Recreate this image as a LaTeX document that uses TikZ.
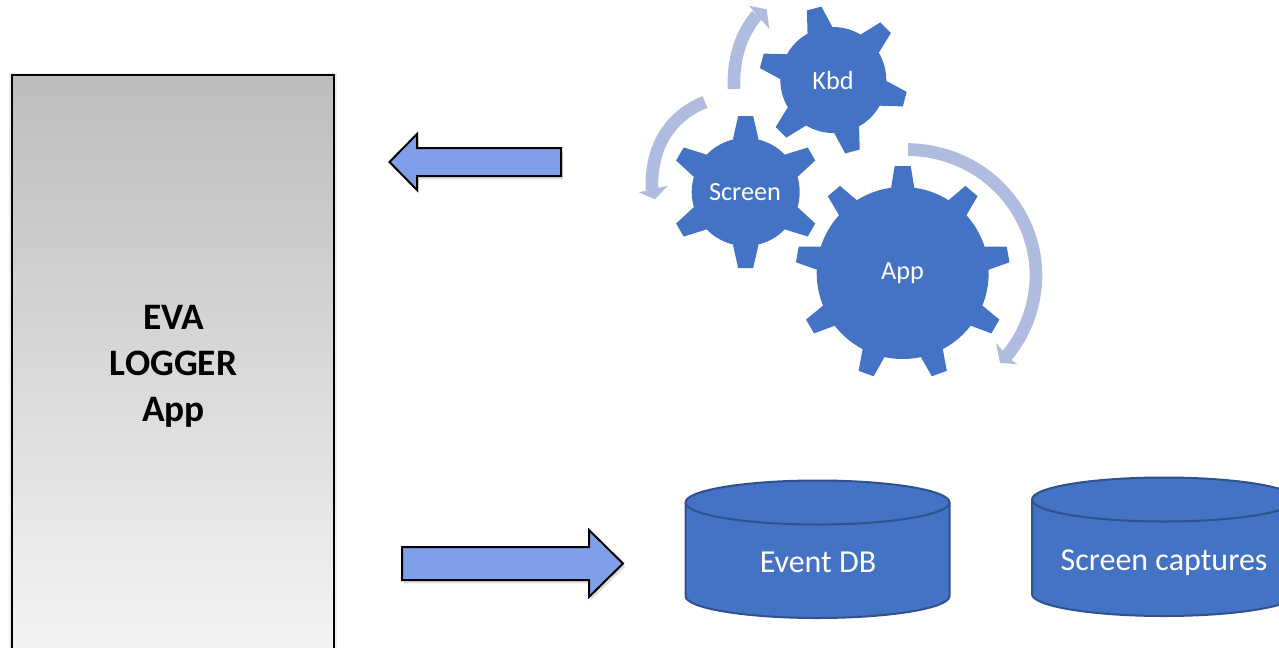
\documentclass[tikz,border=0pt]{standalone}
\usepackage{fontspec}
\setmainfont{Carlito}
\usetikzlibrary{shadows}
\definecolor{gearblue}{HTML}{4472C4}
\definecolor{gearedge}{HTML}{2F528F}
\definecolor{arcblue}{HTML}{B0BCDF}
\definecolor{arrowblue}{HTML}{7F9FE8}
\tikzset{
  blockarrow/.style={draw=black,line width=1.5pt,fill=arrowblue,line join=miter,
    drop shadow={shadow xshift=1.5pt,shadow yshift=-2.5pt,opacity=.25}},
  dbbody/.style={draw=gearedge,line width=1.5pt,fill=gearblue},
  dbtext/.style={text=white,font=\fontsize{24}{28}\selectfont},
  geartext/.style={text=white,font=\fontsize{19.7}{24}\selectfont},
  spinarc/.style={draw=arcblue,line width=9.5pt},
  spinhead/.style={fill=arcblue}
}
% centre, body radius, tip radius, half width at body, half width at tip, angles
\newcommand{\gearteeth}[6]{%
  \foreach \ang in {#6} {
    \begin{scope}[shift={(#1)},rotate=\ang]
      \fill[gearblue] (#2-3,-#4-.5) -- (#2,-#4) -- (#3,-#5) -- (#3,#5) -- (#2,#4) -- (#2-3,#4+.5) -- cycle;
    \end{scope}
  }}
% centre x, y of top rim, y of bottom rim
\newcommand{\dbstore}[3]{%
  \draw[dbbody] (#1-132,#2) -- (#1-132,#3) arc[start angle=180,end angle=0,x radius=132,y radius=22]
    -- (#1+132,#2) arc[start angle=0,end angle=-180,x radius=132,y radius=22] -- cycle;
  \draw[dbbody,fill=none] (#1-132,#2) arc[start angle=180,end angle=0,x radius=132,y radius=22];}
\begin{document}
\begin{tikzpicture}[x=.75pt,y=-.75pt]
\useasboundingbox (0,0) rectangle (1279,647);
\clip (0,0) rectangle (1279,647);

% logger box
\fill[black,opacity=.07] (9,73) rectangle (337,660);
\node[draw=black,line width=1.4pt,top color=black!26,bottom color=black!4,outer sep=0pt,
  minimum width=241.5pt,minimum height=442pt,anchor=north west,inner sep=0pt] (logger) at (12,75) {};
\node[align=center,font=\fontsize{28}{34.5}\selectfont\bfseries] (loggertext) at (173.5,366) {EVA\\LOGGER\\App};

% block arrows
\draw[blockarrow] (561,148) -- (417,148) -- (417,134) -- (389.5,162) -- (417,190) -- (417,176) -- (561,176) -- cycle;
\draw[blockarrow] (402,547) -- (589,547) -- (589,530) -- (623,563.5) -- (589,597) -- (589,580) -- (402,580) -- cycle;

% gears
\coordinate (appc) at (902.7,273);
\coordinate (screenc) at (745.7,192);
\coordinate (kbdc) at (833.3,80);
\gearteeth{appc}{86}{107}{11.5}{8}{90,50,10,-30,-70,-110,-150,170,130}
\gearteeth{screenc}{54}{76}{12.5}{7.5}{90,30,-30,-90,-150,150}
\gearteeth{kbdc}{53}{74}{12.5}{7.5}{105,45,-15,-75,-135,165}
\node[circle,fill=gearblue,minimum size=129pt,inner sep=0pt] (app) at (appc) {};
\node[circle,fill=gearblue,minimum size=81pt,inner sep=0pt] (screen) at (screenc) {};
\node[circle,fill=gearblue,minimum size=79.5pt,inner sep=0pt] (kbd) at (kbdc) {};
\node[geartext] (applab) at (902.5,273) {App};
\node[geartext] (screenlab) at (745,192) {Screen};
\node[geartext] (kbdlab) at (833,80) {Kbd};

% turning arcs
\draw[spinarc] (908,149.5) .. controls (985,151) and (1036,212) .. (1036,275) .. controls (1036,305) and (1025,335) .. (1005,358);
\fill[spinhead] (996,343) -- (1000,362.7) -- (1017.3,364.3) -- (1008,357) -- cycle;
\draw[spinarc] (705,102) .. controls (672,115) and (650,145) .. (652,190);
\fill[spinhead] (639,192.3) -- (655,199.3) -- (667.7,185.7) -- cycle;
\draw[spinarc] (734,89) .. controls (733,60) and (740,35) .. (757,15);
\fill[spinhead] (749,5.7) -- (766.7,9.3) -- (769.3,29) -- cycle;

% data stores
\dbstore{817.5}{502.5}{596}
\dbstore{1164}{499.5}{594}
\node[dbtext] (eventlab) at (818,562) {Event DB};
\node[dbtext] (capturelab) at (1164,562.5) {Screen captures};
\end{tikzpicture}
\end{document}
